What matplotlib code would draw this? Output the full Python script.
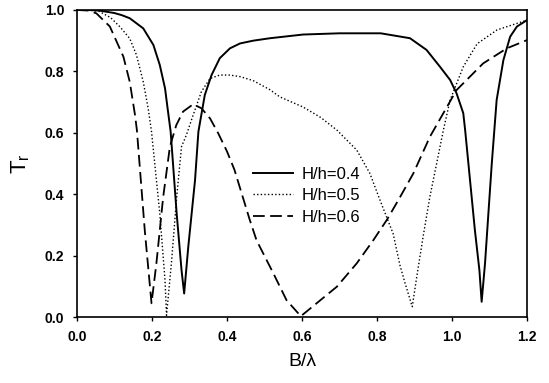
import numpy as np
import matplotlib
matplotlib.use('Agg')
import matplotlib.pyplot as plt

plt.rcParams['font.family'] = ['Liberation Sans', 'DejaVu Sans']
plt.rcParams['mathtext.fontset'] = 'custom'
plt.rcParams['mathtext.rm'] = 'Liberation Sans'
plt.rcParams['mathtext.it'] = 'Liberation Sans'

# H/h = 0.4 (solid)
b_04 = [0.0, 0.03, 0.06, 0.10, 0.12, 0.141, 0.177, 0.204, 0.221, 0.235, 0.243, 0.25,
        0.266, 0.279, 0.286, 0.297, 0.315, 0.324, 0.341, 0.359, 0.381, 0.408, 0.435,
        0.47, 0.515, 0.603, 0.70, 0.81, 0.888, 0.932, 0.968, 0.995, 1.012, 1.03,
        1.035, 1.048, 1.061, 1.073, 1.079, 1.088, 1.097, 1.106, 1.119, 1.137, 1.155,
        1.173, 1.2]
t_04 = [1.0, 1.0, 0.998, 0.99, 0.983, 0.973, 0.94, 0.886, 0.821, 0.745, 0.669, 0.604,
        0.338, 0.153, 0.077, 0.229, 0.446, 0.604, 0.723, 0.788, 0.843, 0.875, 0.891,
        0.90, 0.908, 0.92, 0.924, 0.924, 0.908, 0.87, 0.815, 0.772, 0.729, 0.664,
        0.609, 0.446, 0.283, 0.153, 0.05, 0.175, 0.338, 0.5, 0.707, 0.837, 0.913,
        0.946, 0.967]

# H/h = 0.5 (dotted)
b_05 = [0.0, 0.03, 0.06, 0.09, 0.115, 0.141, 0.159, 0.177, 0.19, 0.199, 0.221, 0.235,
        0.239, 0.252, 0.266, 0.279, 0.292, 0.31, 0.332, 0.355, 0.381, 0.408, 0.435,
        0.47, 0.515, 0.541, 0.603, 0.65, 0.693, 0.746, 0.781, 0.808, 0.843, 0.861,
        0.875, 0.894, 0.906, 0.923, 0.941, 0.959, 0.977, 0.995, 1.03, 1.067, 1.12, 1.2]
t_05 = [1.0, 1.0, 0.995, 0.975, 0.945, 0.907, 0.853, 0.766, 0.68, 0.604, 0.338, 0.12,
        0.006, 0.175, 0.39, 0.555, 0.593, 0.658, 0.734, 0.777, 0.788, 0.788, 0.783,
        0.77, 0.74, 0.717, 0.684, 0.65, 0.609, 0.544, 0.468, 0.381, 0.272, 0.17,
        0.11, 0.034, 0.131, 0.262, 0.392, 0.5, 0.609, 0.707, 0.815, 0.89, 0.935, 0.967]

# H/h = 0.6 (dashed)
b_06 = [0.0, 0.03, 0.052, 0.088, 0.124, 0.141, 0.155, 0.16, 0.181, 0.199, 0.212, 0.23,
        0.248, 0.265, 0.283, 0.31, 0.332, 0.355, 0.377, 0.40, 0.42, 0.44, 0.46,
        0.479, 0.524, 0.559, 0.597, 0.639, 0.693, 0.746, 0.79, 0.826, 0.857, 0.897,
        0.941, 1.012, 1.083, 1.146, 1.2]
t_06 = [1.0, 0.998, 0.989, 0.946, 0.848, 0.766, 0.658, 0.609, 0.283, 0.045, 0.175, 0.39,
        0.555, 0.625, 0.669, 0.693, 0.68, 0.647, 0.598, 0.54, 0.48, 0.40, 0.32,
        0.25, 0.142, 0.055, 0.003, 0.045, 0.099, 0.175, 0.25, 0.316, 0.381, 0.468,
        0.587, 0.739, 0.826, 0.875, 0.902]

labels = ['H/h=0.4', 'H/h=0.5', 'H/h=0.6']
xticks = [0.0, 0.2, 0.4, 0.6, 0.8, 1.0, 1.2]
yticks = [0.0, 0.2, 0.4, 0.6, 0.8, 1.0]

fig = plt.figure(figsize=(5.49, 3.83), dpi=100)
ax = fig.add_axes([0.140, 0.172, 0.820, 0.802])

ax.plot(b_04, t_04, color='black', lw=1.4, ls='-', label=labels[0])
ax.plot(b_05, t_05, color='black', lw=1.0, ls=(0, (1, 1.6)), label=labels[1])
ax.plot(b_06, t_06, color='black', lw=1.3, ls=(0, (6.5, 3)), label=labels[2])

ax.set_xlim(0, 1.2)
ax.set_ylim(0, 1.0)
ax.set_xticks(xticks)
ax.set_yticks(yticks)
ax.set_xticklabels(['%.1f' % v for v in xticks], fontsize=10, fontweight='bold')
ax.set_yticklabels(['%.1f' % v for v in yticks], fontsize=10, fontweight='bold')
ax.tick_params(direction='out', length=3, width=1, pad=6)
for s in ax.spines.values():
    s.set_linewidth(1.2)

ax.set_xlabel('B/\u03bb', fontsize=14, labelpad=7)
ax.set_ylabel(r'$\mathrm{T_r}$', fontsize=16, labelpad=9)

leg = ax.legend(loc='upper left', bbox_to_anchor=(0.391, 0.49), frameon=False,
                borderpad=0, borderaxespad=0, fontsize=12, handlelength=2.4,
                handletextpad=0.55, labelspacing=0.4)

fig.savefig('out.png', dpi=100)
